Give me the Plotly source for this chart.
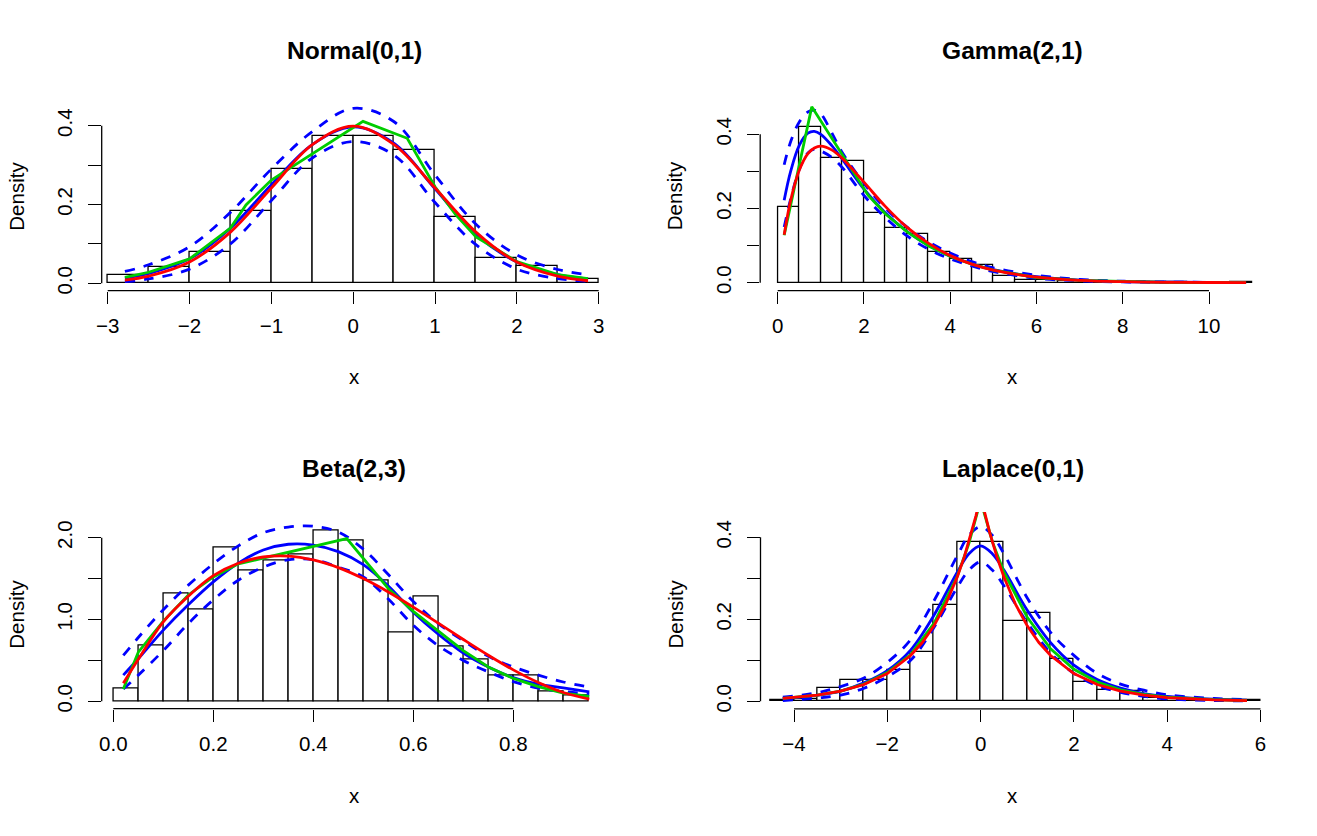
import numpy as np
import plotly.graph_objects as go

W, H = 1317, 836
FONT = "Liberation Sans"

# ---------------- data ----------------
# Normal(0,1)
normal_break_start = -3.0
normal_bin_width = 0.5
normal_density = [0.020, 0.042, 0.080, 0.183, 0.291, 0.375, 0.375, 0.339, 0.168, 0.064, 0.045, 0.012]
normal_x = [-2.79, -2.5, -2.0, -1.5, -1.0, -0.5, 0.0, 0.5, 1.0, 1.5, 2.0, 2.5, 2.87]
normal_true = [0.008, 0.018, 0.054, 0.130, 0.242, 0.352, 0.399, 0.352, 0.242, 0.130, 0.054, 0.018, 0.0065]
normal_fit = [0.013, 0.025, 0.062, 0.140, 0.250, 0.352, 0.397, 0.355, 0.240, 0.124, 0.054, 0.022, 0.011]
normal_upper = [0.030, 0.047, 0.093, 0.180, 0.290, 0.385, 0.444, 0.410, 0.275, 0.150, 0.072, 0.035, 0.022]
normal_lower = [0.004, 0.011, 0.036, 0.100, 0.210, 0.318, 0.360, 0.325, 0.205, 0.098, 0.036, 0.012, 0.005]
normal_poly_x = [-2.79, -2.5, -2.0, -1.5, -1.31, -1.0, 0.12, 0.66, 1.0, 1.25, 1.5, 2.0, 2.5, 2.87]
normal_poly_y = [0.015, 0.028, 0.062, 0.140, 0.199, 0.262, 0.411, 0.368, 0.245, 0.175, 0.118, 0.055, 0.022, 0.012]
normal_xticks = [-3, -2, -1, 0, 1, 2, 3]
normal_xlabels = ["\u22123", "\u22122", "\u22121", "0", "1", "2", "3"]
normal_yticks = [0.0, 0.1, 0.2, 0.3, 0.4]
normal_ylabels = ["0.0", "", "0.2", "", "0.4"]

# Gamma(2,1)
gamma_break_start = 0.0
gamma_bin_width = 0.5
gamma_density = [0.203, 0.420, 0.335, 0.328, 0.187, 0.147, 0.131, 0.083, 0.063, 0.048, 0.018,
                 0.008, 0.006, 0.004, 0.003, 0.002, 0.001, 0.001, 0.001, 0.0005, 0.0005, 0.001]
gamma_x = [0.15, 0.3, 0.5, 0.7, 0.85, 1.0, 1.25, 1.5, 2.0, 2.5, 3.0, 3.5, 4.0, 4.5, 5.0, 6.0, 7.0, 8.0, 9.0, 10.0, 10.86]
gamma_true = [0.129, 0.222, 0.303, 0.348, 0.363, 0.368, 0.358, 0.335, 0.271, 0.205, 0.149, 0.106, 0.073,
              0.050, 0.034, 0.015, 0.0064, 0.0027, 0.0011, 0.0005, 0.0002]
gamma_fit = [0.222, 0.300, 0.370, 0.403, 0.408, 0.400, 0.370, 0.332, 0.252, 0.188, 0.138, 0.100, 0.072,
             0.051, 0.035, 0.016, 0.007, 0.003, 0.0015, 0.0007, 0.0004]
gamma_upper = [0.318, 0.380, 0.433, 0.460, 0.465, 0.455, 0.405, 0.350, 0.268, 0.200, 0.150, 0.110, 0.080,
               0.057, 0.040, 0.020, 0.009, 0.004, 0.002, 0.001, 0.0007]
gamma_lower = [0.150, 0.225, 0.305, 0.350, 0.360, 0.355, 0.338, 0.310, 0.235, 0.175, 0.126, 0.090, 0.064,
               0.045, 0.030, 0.012, 0.005, 0.002, 0.001, 0.0003, 0.0001]
gamma_poly_x = [0.15, 0.79, 2.1, 2.5, 3.0, 3.5, 4.0, 4.5, 5.0, 6.0, 7.0, 8.0, 9.0, 10.0, 10.86]
gamma_poly_y = [0.128, 0.474, 0.235, 0.185, 0.137, 0.099, 0.071, 0.050, 0.034, 0.014, 0.006, 0.0025, 0.001, 0.0005, 0.0003]
gamma_xticks = [0, 2, 4, 6, 8, 10]
gamma_xlabels = ["0", "2", "4", "6", "8", "10"]
gamma_yticks = [0.0, 0.1, 0.2, 0.3, 0.4]
gamma_ylabels = ["0.0", "", "0.2", "", "0.4"]

# Beta(2,3)
beta_break_start = 0.0
beta_bin_width = 0.05
beta_density = [0.159, 0.680, 1.320, 1.124, 1.878, 1.600, 1.719, 1.800, 2.086, 1.963, 1.479, 0.839,
                1.283, 0.676, 0.513, 0.318, 0.310, 0.120, 0.075]
beta_x = [0.02, 0.05, 0.1, 0.15, 0.2, 0.25, 0.3, 0.35, 0.4, 0.45, 0.5, 0.55, 0.6, 0.65, 0.7, 0.75, 0.8, 0.85, 0.9, 0.952]
beta_true = [0.221, 0.514, 0.972, 1.285, 1.536, 1.688, 1.764, 1.775, 1.728, 1.634, 1.500, 1.337, 1.152,
             0.955, 0.756, 0.563, 0.384, 0.230, 0.108, 0.027]
beta_fit = [0.32, 0.52, 0.87, 1.18, 1.46, 1.69, 1.85, 1.92, 1.91, 1.83, 1.67, 1.41, 1.09, 0.82, 0.59,
            0.42, 0.29, 0.21, 0.165, 0.115]
beta_upper = [0.56, 0.78, 1.12, 1.42, 1.68, 1.90, 2.06, 2.13, 2.14, 2.07, 1.86, 1.55, 1.22, 0.95, 0.74,
              0.55, 0.42, 0.32, 0.236, 0.175]
beta_lower = [0.15, 0.32, 0.62, 0.95, 1.24, 1.48, 1.64, 1.73, 1.73, 1.64, 1.52, 1.25, 0.93, 0.68, 0.50,
              0.36, 0.24, 0.16, 0.12, 0.09]
beta_poly_x = [0.02, 0.05, 0.1, 0.15, 0.2, 0.25, 0.467, 0.55, 0.6, 0.65, 0.7, 0.75, 0.8, 0.85, 0.9, 0.952]
beta_poly_y = [0.15, 0.60, 0.98, 1.30, 1.52, 1.68, 1.99, 1.38, 1.10, 0.86, 0.62, 0.42, 0.28, 0.18, 0.10, 0.06]
beta_xticks = [0.0, 0.2, 0.4, 0.6, 0.8]
beta_xlabels = ["0.0", "0.2", "0.4", "0.6", "0.8"]
beta_yticks = [0.0, 0.5, 1.0, 1.5, 2.0]
beta_ylabels = ["0.0", "", "1.0", "", "2.0"]

# Laplace(0,1)
laplace_break_start = -4.5
laplace_bin_width = 0.5
laplace_density = [0.003, 0.006, 0.033, 0.053, 0.051, 0.076, 0.120, 0.236, 0.389, 0.389, 0.196, 0.216,
                   0.104, 0.048, 0.028, 0.024, 0.007, 0.005, 0.004, 0.002, 0.002]
laplace_true_x = [-4.24, -3.5, -3, -2.5, -2, -1.5, -1.25, -1, -0.75, -0.5, -0.35, -0.2, -0.1, 0, 0.1, 0.2,
                  0.35, 0.5, 0.75, 1, 1.25, 1.5, 2, 2.5, 3, 3.5, 4, 5, 5.71]
laplace_true = [0.0072, 0.0151, 0.0249, 0.041, 0.0677, 0.1116, 0.1433, 0.184, 0.2362, 0.3033, 0.3523,
                0.4094, 0.4524, 0.5, 0.4524, 0.4094, 0.3523, 0.3033, 0.2362, 0.184, 0.1433, 0.1116,
                0.0677, 0.041, 0.0249, 0.0151, 0.0092, 0.0034, 0.0017]
laplace_x = [-4.24, -3.5, -3, -2.5, -2, -1.5, -1, -0.5, -0.25, 0, 0.25, 0.5, 1, 1.5, 2, 2.5, 3, 3.5, 4, 5, 5.71]
laplace_fit = [0.006, 0.015, 0.025, 0.045, 0.075, 0.125, 0.21, 0.315, 0.36, 0.379, 0.36, 0.32, 0.222,
               0.143, 0.088, 0.053, 0.032, 0.019, 0.012, 0.005, 0.003]
laplace_upper = [0.010, 0.021, 0.036, 0.057, 0.095, 0.150, 0.245, 0.355, 0.405, 0.426, 0.405, 0.36, 0.252,
                 0.168, 0.112, 0.068, 0.042, 0.027, 0.016, 0.007, 0.004]
laplace_lower = [0.002, 0.008, 0.015, 0.032, 0.060, 0.100, 0.180, 0.278, 0.32, 0.34, 0.32, 0.282, 0.192,
                 0.118, 0.068, 0.038, 0.022, 0.012, 0.006, 0.002, 0.001]
laplace_poly_x = laplace_x
laplace_poly_y = [0.007, 0.015, 0.025, 0.042, 0.07, 0.114, 0.19, 0.305, 0.385, 0.49, 0.39, 0.315, 0.205,
                  0.128, 0.078, 0.047, 0.028, 0.017, 0.010, 0.004, 0.002]
laplace_xticks = [-4, -2, 0, 2, 4, 6]
laplace_xlabels = ["\u22124", "\u22122", "0", "2", "4", "6"]
laplace_yticks = [0.0, 0.1, 0.2, 0.3, 0.4]
laplace_ylabels = ["0.0", "", "0.2", "", "0.4"]

# ---------------- panel layout (pixel geometry; x0 = pixel of x=0, y0 = pixel of y=0) ----------------
panels = [
    dict(title="Normal(0,1)", start=normal_break_start, bw=normal_bin_width, dens=normal_density,
         x=normal_x, true_x=normal_x, true=normal_true, fit=normal_fit, up=normal_upper, lo=normal_lower,
         px=normal_poly_x, py=normal_poly_y, xt=normal_xticks, xl=normal_xlabels,
         yt=normal_yticks, yl=normal_ylabels, true_spline=True,
         L=101.7, R=606.4, T=101.0, B=290.7, x0=353.2, xs=81.83, y0=283.3, ys=394.0),
    dict(title="Gamma(2,1)", start=gamma_break_start, bw=gamma_bin_width, dens=gamma_density,
         x=gamma_x, true_x=gamma_x, true=gamma_true, fit=gamma_fit, up=gamma_upper, lo=gamma_lower,
         px=gamma_poly_x, py=gamma_poly_y, xt=gamma_xticks, xl=gamma_xlabels,
         yt=gamma_yticks, yl=gamma_ylabels, true_spline=True,
         L=760.2, R=1265.0, T=101.0, B=290.7, x0=777.7, xs=43.13, y0=282.7, ys=371.0),
    dict(title="Beta(2,3)", start=beta_break_start, bw=beta_bin_width, dens=beta_density,
         x=beta_x, true_x=beta_x, true=beta_true, fit=beta_fit, up=beta_upper, lo=beta_lower,
         px=beta_poly_x, py=beta_poly_y, xt=beta_xticks, xl=beta_xlabels,
         yt=beta_yticks, yl=beta_ylabels, true_spline=True,
         L=101.7, R=606.4, T=519.5, B=708.6, x0=113.3, xs=500.0, y0=701.3, ys=81.8),
    dict(title="Laplace(0,1)", start=laplace_break_start, bw=laplace_bin_width, dens=laplace_density,
         x=laplace_x, true_x=laplace_true_x, true=laplace_true, fit=laplace_fit, up=laplace_upper,
         lo=laplace_lower, px=laplace_poly_x, py=laplace_poly_y, xt=laplace_xticks, xl=laplace_xlabels,
         yt=laplace_yticks, yl=laplace_ylabels, true_spline=False,
         L=760.5, R=1265.0, T=512.0, B=708.8, x0=980.6, xs=46.65, y0=701.3, ys=410.0),
]

BLUE = "#0000FF"
RED = "#FF0000"
GREEN = "#00CD00"
LW = 2.8
TICKFONT = dict(family=FONT, size=20.5, color="black")

fig = go.Figure()
layout = dict(template="none", width=W, height=H, margin=dict(l=0, r=0, t=0, b=0, pad=0),
              autosize=False, paper_bgcolor="white", plot_bgcolor="white", showlegend=False,
              bargap=0, barmode="overlay", font=dict(family=FONT, color="black"))
shapes = []
annotations = []

for i, p in enumerate(panels):
    k = "" if i == 0 else str(i + 1)
    xa, ya = "x" + k, "y" + k
    n = len(p["dens"])
    edges = p["start"] + p["bw"] * np.arange(n + 1)
    centers = (edges[:-1] + edges[1:]) / 2

    fig.add_trace(go.Bar(x=centers, y=p["dens"], width=p["bw"], xaxis=xa, yaxis=ya,
                         marker=dict(color="white", line=dict(color="black", width=1.3))))
    for yy in (p["up"], p["lo"]):
        fig.add_trace(go.Scatter(x=p["x"], y=yy, mode="lines", xaxis=xa, yaxis=ya,
                                 line=dict(color=BLUE, width=LW, dash="10px,9px", shape="spline")))
    fig.add_trace(go.Scatter(x=p["x"], y=p["fit"], mode="lines", xaxis=xa, yaxis=ya,
                             line=dict(color=BLUE, width=LW, shape="spline")))
    fig.add_trace(go.Scatter(x=p["px"], y=p["py"], mode="lines", xaxis=xa, yaxis=ya,
                             line=dict(color=GREEN, width=LW, shape="linear")))
    fig.add_trace(go.Scatter(x=p["true_x"], y=p["true"], mode="lines", xaxis=xa, yaxis=ya,
                             line=dict(color=RED, width=LW,
                                       shape="spline" if p["true_spline"] else "linear")))

    xr = [(p["L"] - p["x0"]) / p["xs"], (p["R"] - p["x0"]) / p["xs"]]
    yr = [(p["y0"] - p["B"]) / p["ys"], (p["y0"] - p["T"]) / p["ys"]]
    common = dict(showgrid=False, zeroline=False, showline=False, ticks="outside",
                  ticklen=12.5, tickwidth=1.3, tickcolor="black", tickfont=TICKFONT,
                  tickmode="array", fixedrange=True, automargin=False)
    layout["xaxis" + k] = dict(domain=[p["L"] / W, p["R"] / W], range=xr, anchor=ya,
                               tickvals=p["xt"], ticktext=p["xl"], ticklabelstandoff=4, **common)
    layout["yaxis" + k] = dict(domain=[1 - p["B"] / H, 1 - p["T"] / H], range=yr, anchor=xa,
                               tickvals=p["yt"], ticktext=p["yl"], tickangle=-90,
                               ticklabelstandoff=8, **common)
    # R-style detached axis lines (first to last tick)
    shapes.append(dict(type="line", xref=xa, yref=ya + " domain", x0=p["xt"][0], x1=p["xt"][-1],
                       y0=0, y1=0, line=dict(color="black", width=1.3)))
    shapes.append(dict(type="line", xref=xa + " domain", yref=ya, x0=0, x1=0,
                       y0=p["yt"][0], y1=p["yt"][-1], line=dict(color="black", width=1.3)))

    cx = (p["L"] + p["R"]) / 2
    row_top = 0 if i < 2 else 418
    cy = row_top + 196
    annotations.append(dict(text="<b>%s</b>" % p["title"], xref="paper", yref="paper",
                            x=cx / W, y=1 - (row_top + 50.5) / H, showarrow=False,
                            xanchor="center", yanchor="middle",
                            font=dict(family=FONT, size=24.6, color="black")))
    annotations.append(dict(text="x", xref="paper", yref="paper", x=cx / W,
                            y=1 - (row_top + 377) / H, showarrow=False,
                            xanchor="center", yanchor="middle",
                            font=dict(family=FONT, size=20.5, color="black")))
    annotations.append(dict(text="Density", xref="paper", yref="paper",
                            x=(p["L"] - 86) / W, y=1 - cy / H, showarrow=False, textangle=-90,
                            xanchor="center", yanchor="middle",
                            font=dict(family=FONT, size=20.5, color="black")))

layout["shapes"] = shapes
layout["annotations"] = annotations
fig.update_layout(**layout)
fig.write_html("out.html")
